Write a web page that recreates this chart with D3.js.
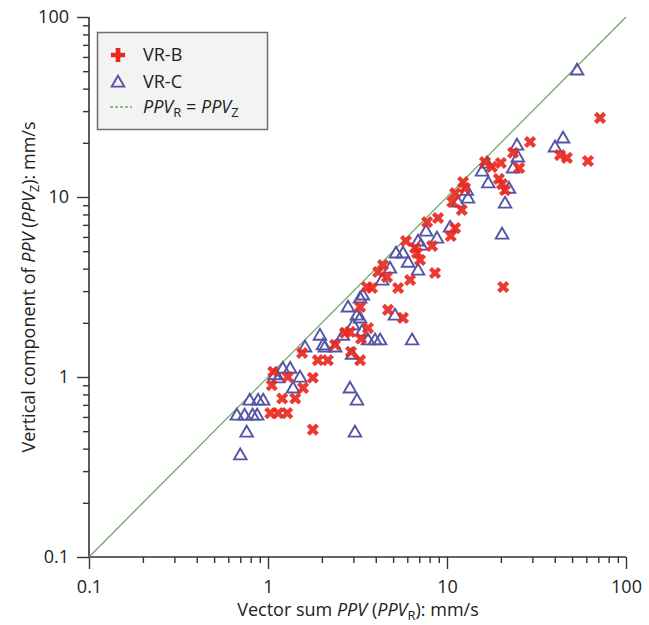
<!DOCTYPE html>
<html>
<head>
<meta charset="utf-8">
<script src="https://cdn.jsdelivr.net/npm/d3@7"></script>
<style>
  body { margin: 0; background: #fff; }
  svg text { font-family: "Open Sans", "Noto Sans", sans-serif; fill: #222; }
</style>
</head>
<body>
<svg id="chart" width="649" height="625"></svg>
<script>
// VR-B blasts: vector sum PPV vs vertical PPV (mm/s)
const vrbX = [2.69, 2.87, 1.55, 1.90, 2.16, 2.37, 3.31, 2.91, 3.27, 1.07, 1.29, 1.78, 1.05, 1.57, 1.20, 1.42, 1.03, 1.14, 1.28, 1.78,
  3.62, 3.27, 4.68, 5.68, 3.57, 3.81, 5.33, 4.39, 4.12, 4.62, 6.22, 5.90, 6.63, 6.80, 7.07, 8.25, 8.57, 10.5, 8.91, 7.74,
  11.1, 12.3, 12.6, 11.1, 10.7, 12.1, 16.3, 17.8, 20.0, 19.5, 20.3, 21.1, 23.4, 25.3, 29.1, 42.8, 46.8, 61.3, 71.6, 20.6];
const vrbY = [1.76, 1.78, 1.36, 1.24, 1.24, 1.51, 1.63, 1.38, 1.24, 1.07, 1.00, 0.99, 0.90, 0.87, 0.76, 0.76, 0.63, 0.63, 0.63, 0.51,
  1.87, 2.45, 2.36, 2.13, 3.16, 3.12, 3.12, 4.19, 3.83, 3.59, 3.46, 5.70, 5.21, 4.89, 4.47, 5.34, 3.78, 6.07, 7.64, 7.26,
  6.72, 12.1, 11.2, 10.5, 9.38, 8.47, 15.65, 14.7, 15.45, 12.6, 11.8, 10.9, 17.6, 14.5, 20.2, 17.1, 16.5, 15.85, 27.5, 3.16];

// VR-C blasts
const vrcX = [1.95, 1.61, 2.03, 2.08, 2.37, 2.62, 3.35, 3.62, 1.21, 1.33, 1.09, 1.14, 1.51, 1.38, 0.79, 0.88, 0.94, 0.67, 0.74, 0.82, 0.87,
  0.76, 0.70, 2.87, 3.14, 3.06, 2.95, 3.96, 4.23, 6.38, 2.99, 3.14, 3.27, 2.80, 5.12, 3.39, 3.27, 4.34, 4.80, 6.89, 5.19, 5.68,
  6.06, 6.89, 7.16, 7.64, 8.79, 10.4, 11.5, 12.9, 13.1, 16.7, 15.7, 17.0, 22.2, 21.1, 20.3, 24.6, 24.9, 23.4, 53.3, 44.5, 40.1];
const vrcY = [1.71, 1.47, 1.51, 1.47, 1.47, 1.71, 1.80, 1.61, 1.12, 1.12, 1.03, 0.99, 1.00, 0.87, 0.745, 0.745, 0.745, 0.615, 0.615, 0.615, 0.615,
  0.495, 0.37, 0.87, 0.745, 0.495, 1.34, 1.61, 1.61, 1.61, 1.95, 2.21, 2.13, 2.45, 2.21, 2.86, 2.75, 3.46, 4.03, 3.93, 4.89, 4.89,
  4.35, 5.70, 5.41, 6.47, 5.92, 6.81, 9.38, 10.9, 9.87, 15.45, 13.95, 12.0, 11.2, 9.26, 6.23, 19.45, 16.7, 14.5, 50.8, 21.3, 19.0];

const majorTicks = [0.1, 1, 10, 100];
const tickLabels = ["0.1", "1", "10", "100"];

const svg = d3.select("#chart");
const red = "#e8291f", blue = "#5454a6", green = "#6fa866";

const x = d3.scaleLog().domain([0.1, 100]).range([89, 626]);
const y = d3.scaleLog().domain([0.1, 100]).range([557, 17]);

// minor ticks 2..9 in each decade
const minorTicks = [];
[0.1, 1, 10].forEach(d => { for (let k = 2; k <= 9; k++) minorTicks.push(d * k); });

// axes
const xAxis = svg.append("g").attr("transform", "translate(0,557)");
xAxis.call(d3.axisBottom(x).tickValues(minorTicks).tickSize(6).tickFormat(""));
xAxis.selectAll(".tick text").remove();
xAxis.append("g").call(d3.axisBottom(x).tickValues(majorTicks).tickSize(12).tickFormat((d, i) => tickLabels[i]));
xAxis.selectAll(".tick line").attr("stroke", "#333").attr("stroke-width", 1.4);
xAxis.selectAll(".tick text").attr("font-size", 18).attr("y", 23).attr("fill", "#222")
  .style("font-family", "'Open Sans', sans-serif");

const yAxis = svg.append("g").attr("transform", "translate(89,0)");
yAxis.call(d3.axisLeft(y).tickValues(minorTicks).tickSize(6).tickFormat(""));
yAxis.selectAll(".tick text").remove();
yAxis.append("g").call(d3.axisLeft(y).tickValues(majorTicks).tickSize(12).tickFormat((d, i) => tickLabels[i]));
yAxis.selectAll(".tick line").attr("stroke", "#333").attr("stroke-width", 1.4);
yAxis.selectAll(".tick text").attr("font-size", 18).attr("x", -20).attr("fill", "#222")
  .style("font-family", "'Open Sans', sans-serif");

// axis lines only, no outer stubs
svg.selectAll("path.domain").attr("stroke", "none");
xAxis.select("path.domain").attr("d", `M${x(0.1)},0H${x(100)}`).attr("stroke", "#333").attr("stroke-width", 1.6);
yAxis.select("path.domain").attr("d", `M0,${y(0.1)}V${y(100)}`).attr("stroke", "#333").attr("stroke-width", 1.6);

// 1:1 line
svg.append("line")
  .attr("x1", x(0.1)).attr("y1", y(0.1))
  .attr("x2", x(100)).attr("y2", y(100))
  .attr("stroke", green).attr("stroke-width", 1.3);

// markers
const tri = d3.symbol().type(d3.symbolTriangle).size(68);
const crs = d3.symbol().type(d3.symbolCross).size(92);

svg.append("g").selectAll("path")
  .data(vrcX.map((v, i) => [v, vrcY[i]]))
  .join("path")
  .attr("d", tri)
  .attr("transform", d => `translate(${x(d[0])},${y(d[1]) + 1})`)
  .attr("fill", "none").attr("stroke", blue).attr("stroke-width", 1.9);

svg.append("g").selectAll("path")
  .data(vrbX.map((v, i) => [v, vrbY[i]]))
  .join("path")
  .attr("d", crs)
  .attr("transform", d => `translate(${x(d[0])},${y(d[1])}) rotate(45)`)
  .attr("fill", red).attr("opacity", 0.92);

// legend
const lg = svg.append("g");
lg.append("rect").attr("x", 97.5).attr("y", 32.5).attr("width", 170).attr("height", 97)
  .attr("fill", "#f3f3f3").attr("stroke", "#6e6e6e").attr("stroke-width", 1.5);
lg.append("path").attr("d", d3.symbol().type(d3.symbolCross).size(110)).attr("transform", "translate(118,55)").attr("fill", red);
lg.append("path").attr("d", tri).attr("transform", "translate(118,83)")
  .attr("fill", "none").attr("stroke", blue).attr("stroke-width", 1.9);
lg.append("line").attr("x1", 110).attr("x2", 132).attr("y1", 107).attr("y2", 107)
  .attr("stroke", green).attr("stroke-width", 1.3).attr("stroke-dasharray", "3,2");
lg.append("text").attr("x", 143).attr("y", 61).attr("font-size", 18).text("VR-B");
lg.append("text").attr("x", 143).attr("y", 88).attr("font-size", 18).text("VR-C");
const lt = lg.append("text").attr("x", 143).attr("y", 113).attr("font-size", 18);
lt.append("tspan").attr("font-style", "italic").text("PPV");
lt.append("tspan").attr("font-size", 13).attr("dy", 4).text("R");
lt.append("tspan").attr("dy", -4).text(" = ");
lt.append("tspan").attr("font-style", "italic").text("PPV");
lt.append("tspan").attr("font-size", 13).attr("dy", 4).text("Z");

// axis titles
const xt = svg.append("text").attr("x", 358).attr("y", 616).attr("text-anchor", "middle").attr("font-size", 18);
xt.append("tspan").text("Vector sum ");
xt.append("tspan").attr("font-style", "italic").text("PPV");
xt.append("tspan").text(" (");
xt.append("tspan").attr("font-style", "italic").text("PPV");
xt.append("tspan").attr("font-size", 13).attr("dy", 4).text("R");
xt.append("tspan").attr("dy", -4).text("): mm/s");

const yt = svg.append("text").attr("transform", "translate(35,287) rotate(-90)")
  .attr("text-anchor", "middle").attr("font-size", 18);
yt.append("tspan").text("Vertical component of ");
yt.append("tspan").attr("font-style", "italic").text("PPV");
yt.append("tspan").text(" (");
yt.append("tspan").attr("font-style", "italic").text("PPV");
yt.append("tspan").attr("font-size", 13).attr("dy", 4).text("Z");
yt.append("tspan").attr("dy", -4).text("): mm/s");
</script>
</body>
</html>
